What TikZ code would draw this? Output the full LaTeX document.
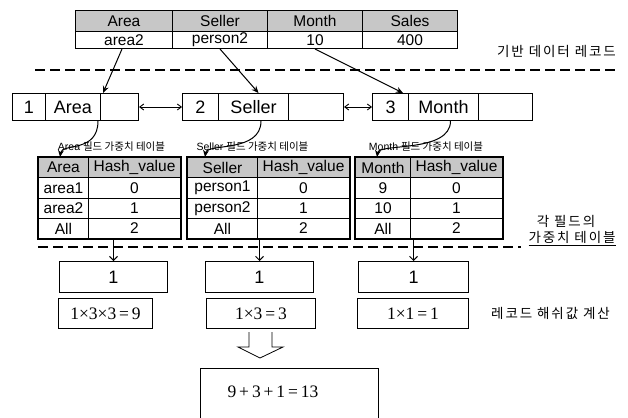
\documentclass[tikz,border=0pt]{standalone}
\usepackage{fontspec}
\setmainfont{Liberation Sans}
\newfontfamily\serifm{Liberation Serif}
\newfontfamily\kr{Noto Sans CJK KR}
\newfontfamily\krsp[LetterSpace=14]{Noto Sans CJK KR}
\usetikzlibrary{arrows.meta,calc}
\tikzset{
  cell/.style={draw, line width=1pt, anchor=north west, inner sep=0pt, font=\fontsize{15.5}{16}\selectfont},
  hdr/.style={cell, fill=black!22},
  lbox/.style={draw, line width=1pt, anchor=north west, inner sep=0pt, minimum height=27pt, font=\fontsize{18}{18}\selectfont},
  rbox/.style={draw, line width=1pt, anchor=north west, inner sep=0pt, font=\fontsize{18}{18}\selectfont},
  ebox/.style={draw, line width=1pt, anchor=north west, inner sep=0pt, font=\serifm\fontsize{17.5}{18}\selectfont},
  sepline/.style={dashed, dash pattern=on 10pt off 5pt, line width=2.2pt},
  link/.style={-{Stealth[length=7pt,width=6pt]}, line width=1pt},
  dbl/.style={{Straight Barb[length=4pt,width=6pt]}-{Straight Barb[length=4pt,width=6pt]}, line width=0.9pt},
  krl/.style={font=\krsp\fontsize{13.5}{14}\selectfont, inner sep=0pt},
  captext/.style={font=\fontsize{10.5}{11}\selectfont, inner sep=0pt},
}
\newcommand{\ftable}[8]{%
  \node[hdr, minimum width={(#3-#2)*1pt}, minimum height=20pt] (#1a0) at (#2,157) {#5};
  \node[hdr, minimum width={(#4-#3)*1pt}, minimum height=20pt] (#1b0) at (#3,157) {Hash\_value};
  \node[cell, minimum width={(#3-#2)*1pt}, minimum height=21pt] (#1a1) at (#2,177) {#6};
  \node[cell, minimum width={(#4-#3)*1pt}, minimum height=21pt] (#1b1) at (#3,177) {0};
  \node[cell, minimum width={(#3-#2)*1pt}, minimum height=20pt] (#1a2) at (#2,198) {#7};
  \node[cell, minimum width={(#4-#3)*1pt}, minimum height=20pt] (#1b2) at (#3,198) {1};
  \node[cell, minimum width={(#3-#2)*1pt}, minimum height=20pt] (#1a3) at (#2,218) {All};
  \node[cell, minimum width={(#4-#3)*1pt}, minimum height=20pt] (#1b3) at (#3,218) {2};
  \draw[line width=1.8pt] (#1a0.north west) rectangle (#1b3.south east);
  \node[captext, anchor=south] (#1cap) at ($(#1a0.north west)!0.5!(#1b0.north east)+(#8pt,5pt)$) {#5 {\kr 필드 가중치 테이블}};
}
\begin{document}
\begin{tikzpicture}[x=1pt,y=-1pt]
\useasboundingbox (0,0) rectangle (628,417);
% top record table
\foreach \x/\w/\n/\t/\v in {75/97/1/Area/area2, 172/95/2/Seller/person2, 267/95/3/Month/10, 362/95/4/Sales/400}{
  \node[hdr, minimum width=\w pt, minimum height=21pt] (h\n) at (\x,10) {\t};
  \node[cell, minimum width=\w pt, minimum height=17pt] (d\n) at (\x,31) {\v};
}
\node[krl, anchor=south east] (lab1) at (616,58) {기반 데이터 레코드};
\draw[sepline] (35,70) -- (616,70);
% linked boxes
\node[lbox, minimum width=33pt] (b1n) at (12,93) {1};
\node[lbox, minimum width=55pt] (b1f) at (45,93) {Area};
\node[lbox, minimum width=38pt] (b1e) at (100,93) {};
\node[lbox, minimum width=36pt] (b2n) at (182,93) {2};
\node[lbox, minimum width=70pt] (b2f) at (218,93) {Seller};
\node[lbox, minimum width=55pt] (b2e) at (288,93) {};
\node[lbox, minimum width=36pt] (b3n) at (372,93) {3};
\node[lbox, minimum width=70pt] (b3f) at (408,93) {Month};
\node[lbox, minimum width=54pt] (b3e) at (478,93) {};
\draw[dbl] (b1e.east) -- (b2n.west);
\draw[dbl] (b2e.east) -- (b3n.west);
\draw[link] ([xshift=-2pt]d1.south) -- ([xshift=3pt]b1e.north west);
\draw[link] (d2.south) -- ([xshift=5pt]b2f.north);
\draw[link] (d3.south) -- ([xshift=-6pt]b3n.north east);
% field tables
\ftable{p}{38}{88}{180}{Area}{area1}{area2}{2}
\ftable{q}{187}{257}{349}{Seller}{person1}{person2}{-16}
\ftable{r}{355}{410}{502}{Month}{9}{10}{-3}
% curved arrows
\draw[link] ([xshift=-3pt]b1f.south east) .. controls +(0,32) and +(2,-14) .. ([xshift=22pt]pa0.north west);
\draw[link] ([xshift=-28pt]b2f.south east) .. controls +(0,32) and +(2,-14) .. ([xshift=18pt]qa0.north west);
\draw[link] ([xshift=7pt]b3f.south) .. controls +(0,32) and +(2,-14) .. ([xshift=22pt]ra0.north west);
% second separator
\node[krl, anchor=south] (lab2a) at (566,228) {각 필드의};
\node[krl, anchor=south] (lab2b) at (572,246) {\underline{가중치 테이블}};
\draw[sepline] (38,247) -- (521,247);
% results
\node[rbox, minimum width=108pt, minimum height=31pt] (r1) at (59,261) {1};
\node[rbox, minimum width=108pt, minimum height=31pt] (r2) at (205,261) {1};
\node[rbox, minimum width=110pt, minimum height=31pt] (r3) at (358,261) {1};
\node[ebox, minimum width=94pt, minimum height=30pt] (e1) at (58,298) {1×3×3\,=\,9};
\node[ebox, minimum width=109pt, minimum height=30pt] (e2) at (206,298) {1×3\,=\,3};
\node[ebox, minimum width=111pt, minimum height=30pt] (e3) at (357,298) {1×1\,=\,1};
\draw[link, -{Straight Barb[length=4pt,width=8pt]}] (r1.north |- pb3.south) -- (r1.north);
\draw[link, -{Straight Barb[length=4pt,width=8pt]}] (r2.north |- qb3.south) -- (r2.north);
\draw[link, -{Straight Barb[length=4pt,width=8pt]}] (r3.north |- rb3.south) -- (r3.north);
\node[krl, anchor=west] (lab3) at (491,313) {레코드 해쉬값 계산};
% hollow arrow
\draw[line width=0.8pt, line join=miter] (249,332) -- (249,347) -- (238,347) -- (260,358) -- (283,347) -- (272,347) -- (272,332);
% final box
\draw[line width=1pt] (200,418) -- (200,368) -- (378,368) -- (378,418);
\node[font=\serifm\fontsize{17.5}{18}\selectfont, inner sep=0pt] (fin) at (273,392) {9\,+\,3\,+\,1\,=\,13};
\end{tikzpicture}
\end{document}
